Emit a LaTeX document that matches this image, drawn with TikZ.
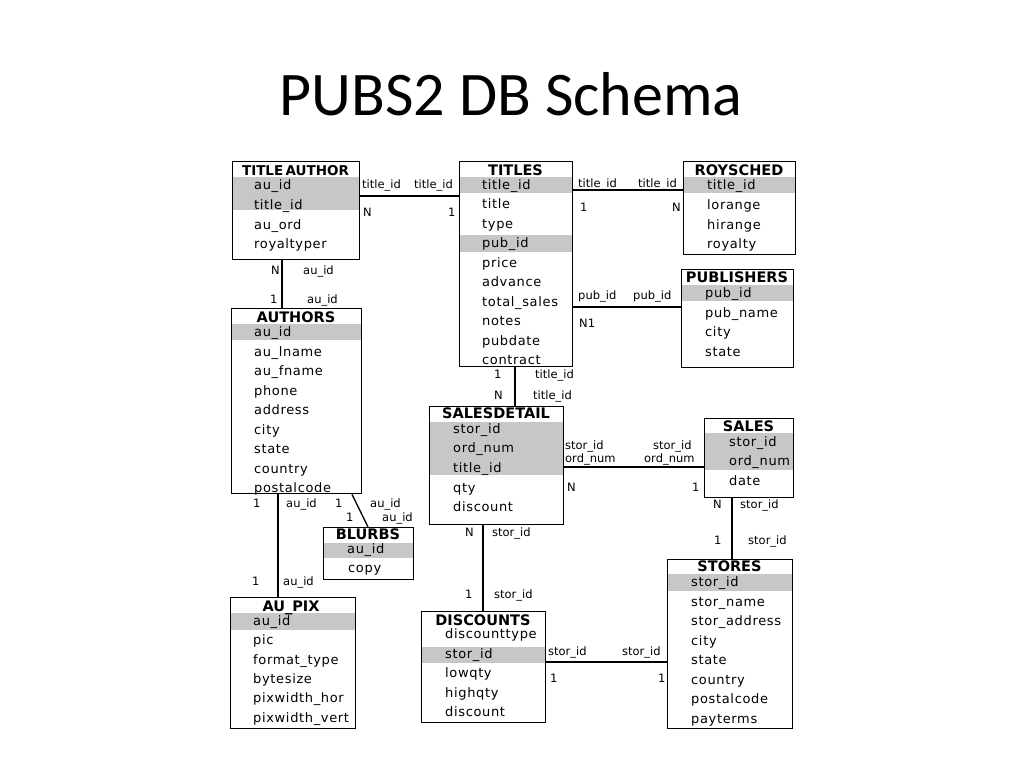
\documentclass[tikz,border=0pt]{standalone}
\usepackage{fontspec}
\setmainfont{DejaVu Sans}
\newfontfamily\titlefont{Carlito}
\newfontfamily\dbfont{DejaVu Sans}
\newfontfamily\fldfont[LetterSpace=5]{DejaVu Sans}
\tikzset{
  tbl/.style={draw, line width=1.3pt, inner sep=0pt, anchor=north west, rectangle},
  hdr/.style={font=\dbfont\bfseries\fontsize{14.5}{16}\selectfont, anchor=base, inner sep=0pt},
  fld/.style={font=\fldfont\fontsize{13}{15}\selectfont, anchor=base west, inner sep=0pt},
  lbl/.style={font=\dbfont\fontsize{11.5}{13}\selectfont, anchor=base west, inner sep=0pt},
  keyrow/.style={fill=black!22},
  conn/.style={line width=1.3pt}
}
\begin{document}
\begin{tikzpicture}[x=1pt,y=-1pt]
\fill[white] (0,0) rectangle (1024,768);
\useasboundingbox (0,0) rectangle (1024,768);

% title
\node[font=\titlefont\fontsize{62}{70}\selectfont, anchor=base, inner sep=0pt] (title) at (511,115) {PUBS2 DB Schema};

% key shading
\fill[keyrow] (232,177) rectangle (359,210);
\fill[keyrow] (459,177) rectangle (572,193);
\fill[keyrow] (459,235) rectangle (572,252);
\fill[keyrow] (683,177) rectangle (795,193);
\fill[keyrow] (681,285) rectangle (793,301);
\fill[keyrow] (231,324) rectangle (361,340);
\fill[keyrow] (323,543) rectangle (413,558);
\fill[keyrow] (230,613) rectangle (355,630);
\fill[keyrow] (429,422) rectangle (563,475);
\fill[keyrow] (704,433) rectangle (793,470);
\fill[keyrow] (667,574) rectangle (792,591);
\fill[keyrow] (421,647) rectangle (545,663);

% tables
\node[tbl, minimum width=127pt, minimum height=98pt] (ta) at (232,161) {};
\node[tbl, minimum width=113pt, minimum height=205pt] (ti) at (459,161) {};
\node[tbl, minimum width=112pt, minimum height=93pt] (rs) at (683,161) {};
\node[tbl, minimum width=112pt, minimum height=98pt] (pb) at (681,269) {};
\node[tbl, minimum width=130pt, minimum height=185pt] (au) at (231,308) {};
\node[tbl, minimum width=90pt, minimum height=52pt] (bl) at (323,527) {};
\node[tbl, minimum width=125pt, minimum height=131pt] (ap) at (230,597) {};
\node[tbl, minimum width=134pt, minimum height=118pt] (sd) at (429,406) {};
\node[tbl, minimum width=89pt, minimum height=79pt] (sa) at (704,418) {};
\node[tbl, minimum width=125pt, minimum height=169pt] (st) at (667,559) {};
\node[tbl, minimum width=124pt, minimum height=111pt] (di) at (421,611) {};

% TITLE AUTHOR
\node[hdr, font=\dbfont\bfseries\fontsize{13.5}{15}\selectfont] (taH) at (295.5,175.5) {TITLE\,AUTHOR};
\node[fld] (ta1) at (254,189.5) {au\_id};
\node[fld] (ta2) at (254,209) {title\_id};
\node[fld] (ta3) at (254,229) {au\_ord};
\node[fld] (ta4) at (254,248) {royaltyper};

% TITLES
\node[hdr] (tiH) at (515.5,175.5) {TITLES};
\node[fld] (ti1) at (482,189) {title\_id};
\node[fld] (ti2) at (482,208.5) {title};
\node[fld] (ti3) at (482,228) {type};
\node[fld] (ti4) at (482,247.5) {pub\_id};
\node[fld] (ti5) at (482,267) {price};
\node[fld] (ti6) at (482,286.5) {advance};
\node[fld] (ti7) at (482,306) {total\_sales};
\node[fld] (ti8) at (482,325.5) {notes};
\node[fld] (ti9) at (482,345) {pubdate};
\node[fld] (ti10) at (482,364.5) {contract};

% ROYSCHED
\node[hdr] (rsH) at (739,175.5) {ROYSCHED};
\node[fld] (rs1) at (707,189) {title\_id};
\node[fld] (rs2) at (707,209.5) {lorange};
\node[fld] (rs3) at (707,229) {hirange};
\node[fld] (rs4) at (707,248.5) {royalty};

% PUBLISHERS
\node[hdr] (pbH) at (737,282) {PUBLISHERS};
\node[fld] (pb1) at (705,297) {pub\_id};
\node[fld] (pb2) at (705,317) {pub\_name};
\node[fld] (pb3) at (705,336.5) {city};
\node[fld] (pb4) at (705,356) {state};

% AUTHORS
\node[hdr] (auH) at (296,322) {AUTHORS};
\node[fld] (au1) at (254,336.5) {au\_id};
\node[fld] (au2) at (254,356) {au\_lname};
\node[fld] (au3) at (254,375.5) {au\_fname};
\node[fld] (au4) at (254,395) {phone};
\node[fld] (au5) at (254,414.5) {address};
\node[fld] (au6) at (254,434) {city};
\node[fld] (au7) at (254,453.5) {state};
\node[fld] (au8) at (254,473) {country};
\node[fld] (au9) at (254,492) {postalcode};

% BLURBS
\node[hdr] (blH) at (368,539.5) {BLURBS};
\node[fld] (bl1) at (347,553) {au\_id};
\node[fld] (bl2) at (348,572.5) {copy};

% AU_PIX
\node[hdr] (apH) at (291,611) {AU\_PIX};
\node[fld] (ap1) at (253,625) {au\_id};
\node[fld] (ap2) at (253,644.5) {pic};
\node[fld] (ap3) at (253,664) {format\_type};
\node[fld] (ap4) at (253,683) {bytesize};
\node[fld] (ap5) at (253,702.5) {pixwidth\_hor};
\node[fld] (ap6) at (253,722) {pixwidth\_vert};

% SALESDETAIL
\node[hdr] (sdH) at (496,418.5) {SALESDETAIL};
\node[fld] (sd1) at (453,433.5) {stor\_id};
\node[fld] (sd2) at (453,452.5) {ord\_num};
\node[fld] (sd3) at (453,472) {title\_id};
\node[fld] (sd4) at (453,492) {qty};
\node[fld] (sd5) at (453,511) {discount};

% SALES
\node[hdr] (saH) at (748.5,431) {SALES};
\node[fld] (sa1) at (729,446) {stor\_id};
\node[fld] (sa2) at (729,465.5) {ord\_num};
\node[fld] (sa3) at (729,485) {date};

% STORES
\node[hdr] (stH) at (729.5,571) {STORES};
\node[fld] (st1) at (691,586.5) {stor\_id};
\node[fld] (st2) at (691,606) {stor\_name};
\node[fld] (st3) at (691,625.5) {stor\_address};
\node[fld] (st4) at (691,645) {city};
\node[fld] (st5) at (691,664.5) {state};
\node[fld] (st6) at (691,684) {country};
\node[fld] (st7) at (691,703.5) {postalcode};
\node[fld] (st8) at (691,723) {payterms};

% DISCOUNTS
\node[hdr] (diH) at (483,625) {DISCOUNTS};
\node[fld] (di1) at (445,638.5) {discounttype};
\node[fld] (di2) at (445,658) {stor\_id};
\node[fld] (di3) at (445,677.5) {lowqty};
\node[fld] (di4) at (445,697) {highqty};
\node[fld] (di5) at (445,716.5) {discount};

% connectors
\draw[conn] (ta.east |- 0,196) -- (ti.west |- 0,196);
\draw[conn] (ti.east |- 0,190) -- (rs.west |- 0,190);
\draw[conn] (ti.east |- 0,307) -- (pb.west |- 0,307);
\draw[conn] (ta.south -| 282,0) -- (au.north -| 282,0);
\draw[conn] (au.south -| 278,0) -- (ap.north -| 278,0);
\draw[conn] (au.south -| 352,0) -- (bl.north -| 368,0);
\draw[conn] (ti.south -| 515,0) -- (sd.north -| 515,0);
\draw[conn] (sd.east |- 0,467) -- (sa.west |- 0,467);
\draw[conn] (sd.south -| 483,0) -- (di.north -| 483,0);
\draw[conn] (sa.south -| 732,0) -- (st.north -| 732,0);
\draw[conn] (di.east |- 0,662) -- (st.west |- 0,662);

% connector labels
\node[lbl] (l1) at (362,188) {title\_id};
\node[lbl] (l2) at (414,188) {title\_id};
\node[lbl] (l3) at (363,216) {N};
\node[lbl] (l4) at (448,216) {1};

\node[lbl] (l5) at (578,187) {title\_id};
\node[lbl] (l6) at (638,187) {title\_id};
\node[lbl] (l7) at (580,211) {1};
\node[lbl] (l8) at (672,211) {N};

\node[lbl] (l9) at (578,299) {pub\_id};
\node[lbl] (l10) at (633,299) {pub\_id};
\node[lbl] (l11) at (579,327) {N1};

\node[lbl] (l12) at (271,274) {N};
\node[lbl] (l13) at (303,274) {au\_id};
\node[lbl] (l14) at (270,303) {1};
\node[lbl] (l15) at (307,303) {au\_id};

\node[lbl] (l16) at (253,507) {1};
\node[lbl] (l17) at (286,507) {au\_id};
\node[lbl] (l18) at (252,585) {1};
\node[lbl] (l19) at (283,585) {au\_id};

\node[lbl] (l20) at (335,507) {1};
\node[lbl] (l21) at (370,507) {au\_id};
\node[lbl] (l22) at (346,521.5) {1};
\node[lbl] (l23) at (382,521.5) {au\_id};

\node[lbl] (l24) at (494,378) {1};
\node[lbl] (l25) at (535,378) {title\_id};
\node[lbl] (l26) at (494,399) {N};
\node[lbl] (l27) at (533,399) {title\_id};

\node[lbl] (l28) at (565,449) {stor\_id};
\node[lbl] (l29) at (565,462) {ord\_num};
\node[lbl] (l30) at (653,449) {stor\_id};
\node[lbl] (l31) at (644,462) {ord\_num};
\node[lbl] (l32) at (567,491) {N};
\node[lbl] (l33) at (692,491) {1};

\node[lbl] (l34) at (465,536) {N};
\node[lbl] (l35) at (492,536) {stor\_id};
\node[lbl] (l36) at (465,598.5) {1};
\node[lbl] (l37) at (494,598.5) {stor\_id};

\node[lbl] (l38) at (713,508) {N};
\node[lbl] (l39) at (740,508) {stor\_id};
\node[lbl] (l40) at (714,544) {1};
\node[lbl] (l41) at (748,544) {stor\_id};

\node[lbl] (l42) at (548,655) {stor\_id};
\node[lbl] (l43) at (622,655) {stor\_id};
\node[lbl] (l44) at (550,682) {1};
\node[lbl] (l45) at (658,682) {1};
\end{tikzpicture}
\end{document}
